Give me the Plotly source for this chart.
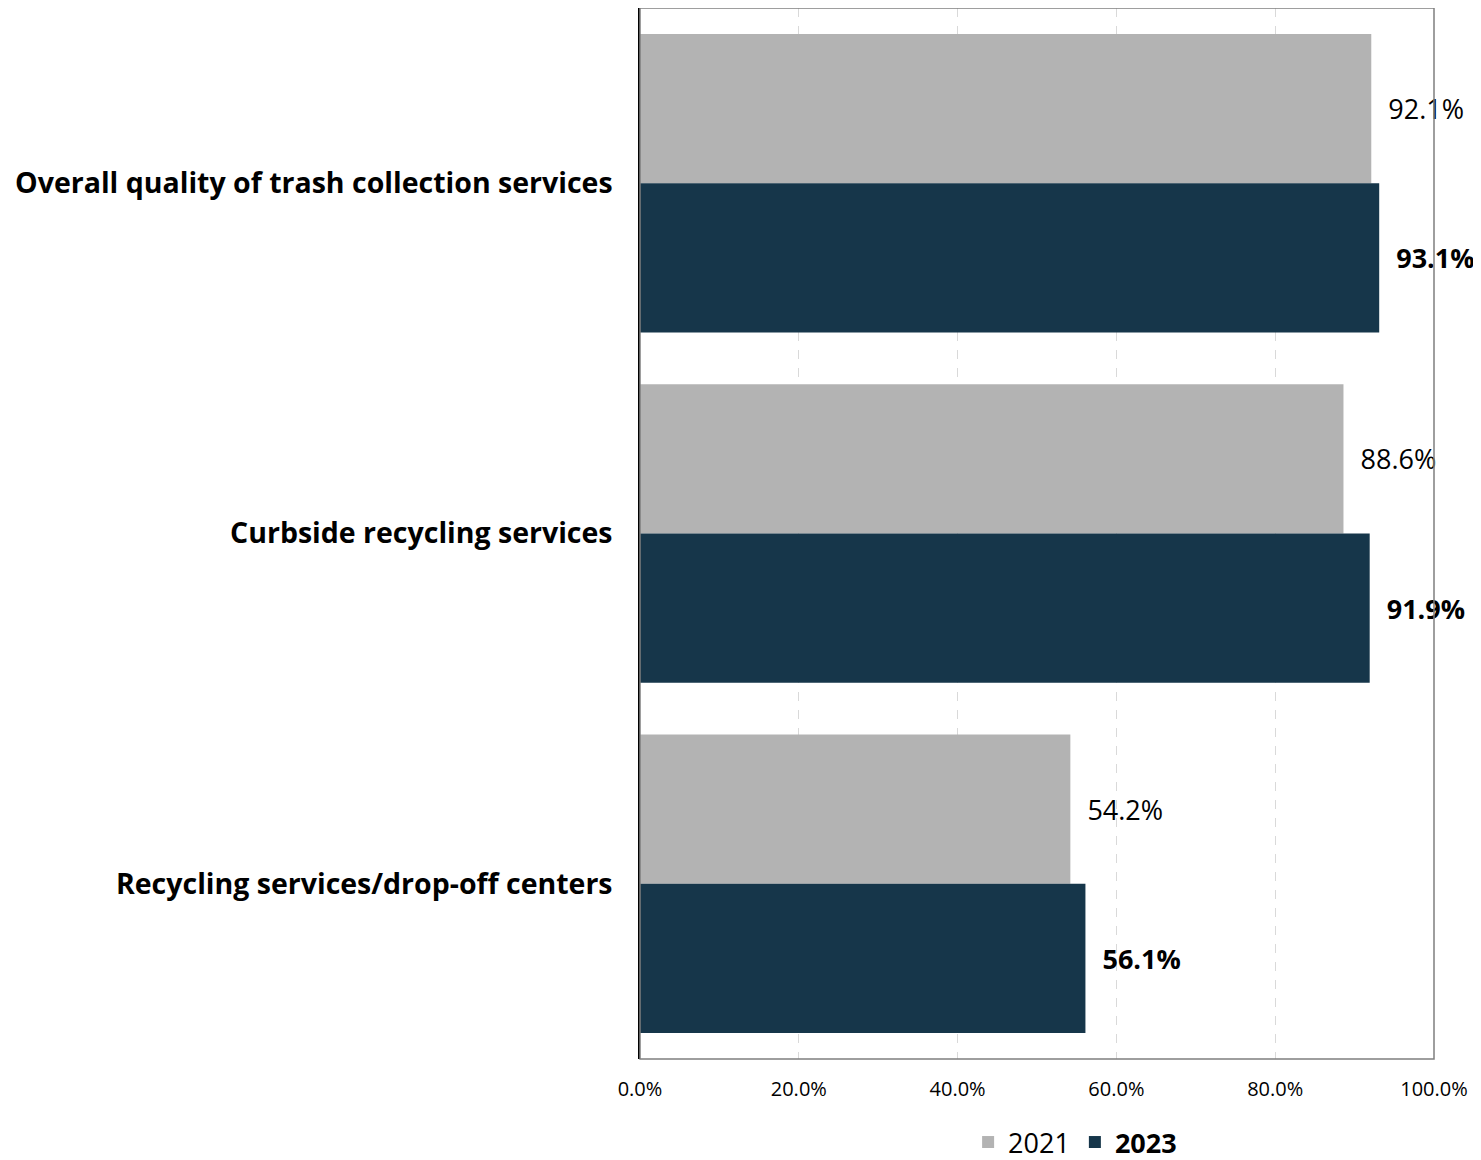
import plotly.graph_objects as go

categories = ["Overall quality of trash collection services",
              "Curbside recycling services",
              "Recycling services/drop-off centers"]
values_2021 = [92.1, 88.6, 54.2]
values_2023 = [93.1, 91.9, 56.1]
tick_vals = [0, 20, 40, 60, 80, 100]

FONT = "Open Sans"
fig = go.Figure()
fig.add_trace(go.Bar(
    y=categories, x=values_2021, orientation="h", name="2021",
    marker=dict(color="#b3b3b3", line=dict(width=0)),
    text=[f"{v:.1f}%" for v in values_2021], texttemplate="  %{text}",
    textposition="outside", cliponaxis=False, constraintext="none",
    textfont=dict(family=FONT, size=27, color="#000000"),
))
fig.add_trace(go.Bar(
    y=categories, x=values_2023, orientation="h", name="<b>2023</b>",
    marker=dict(color="#16364a", line=dict(width=0)),
    text=[f"<b>{v:.1f}%</b>" for v in values_2023], texttemplate="  %{text}",
    textposition="outside", cliponaxis=False, constraintext="none",
    textfont=dict(family=FONT, size=27, color="#000000"),
))

fig.update_layout(
    width=1481, height=1160,
    margin=dict(l=632, r=55, t=0, b=109, autoexpand=False),
    barmode="group", bargap=0.148, bargroupgap=0,
    plot_bgcolor="white", paper_bgcolor="white",
    font=dict(family=FONT, color="#000000"),
    showlegend=True,
    legend=dict(orientation="h", x=0.548, xanchor="center",
                yref="container", y=0.022, yanchor="middle",
                font=dict(family=FONT, size=27), traceorder="normal",
                itemwidth=30, tracegroupgap=0),
    shapes=[dict(type="rect", xref="paper", yref="paper", x0=0, x1=1, y0=0, y1=1,
                 line=dict(color="#7f7f7f", width=1.5), layer="above")],
)
fig.update_xaxes(range=[0, 100], tickvals=tick_vals,
                 ticktext=[f"{v:.1f}%" for v in tick_vals],
                 tickfont=dict(family=FONT, size=20), showgrid=True,
                 gridcolor="#d9d9d9", griddash="dash", gridwidth=1,
                 zeroline=False, ticks="", ticklabelstandoff=16, automargin=False)
fig.update_yaxes(autorange="reversed", showline=True, linecolor="#000000", linewidth=1.5,
                 ticks="", tickfont=dict(family=FONT, size=28.5),
                 ticktext=[f"<b>{c}</b>" for c in categories], tickvals=categories,
                 ticklabelstandoff=20, showgrid=False, automargin=False)

fig.write_html("out.html")
